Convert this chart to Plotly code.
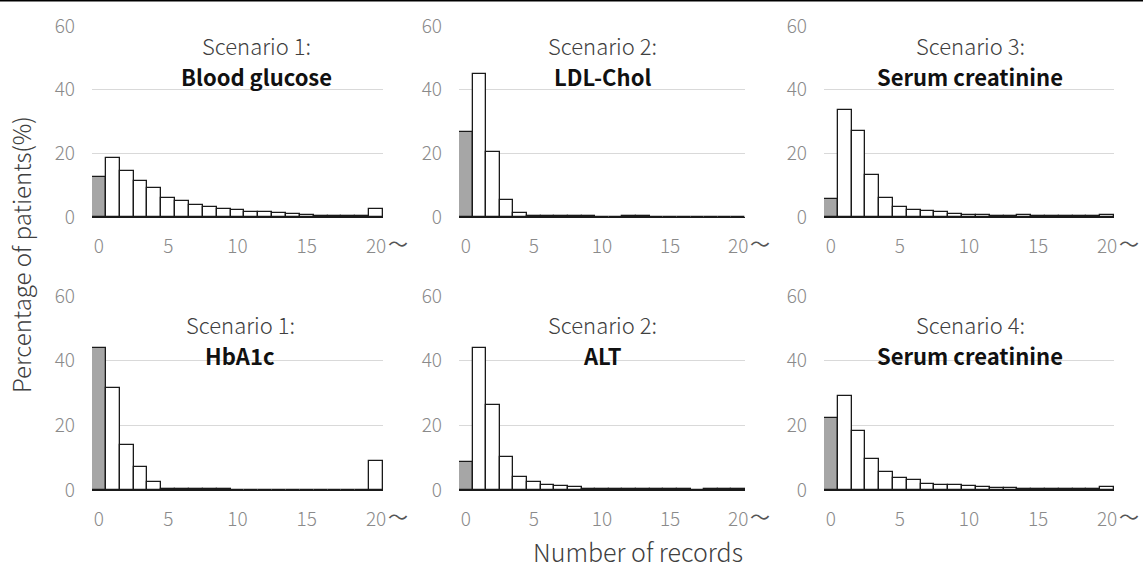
import plotly.graph_objects as go

records = list(range(21))
x_tickvals = [0, 5, 10, 15, 20]
y_tickvals = [0, 20, 40, 60]

blood_glucose = [12.7, 18.4, 14.6, 11.3, 9.1, 5.9, 4.9, 3.9, 3.0, 2.6, 2.2,
                 1.7, 1.55, 1.25, 0.85, 0.7, 0.4, 0.35, 0.3, 0.3, 2.6]
ldl_chol = [26.6, 45.0, 20.3, 5.2, 1.25, 0.4, 0.3, 0.3, 0.3, 0.3, 0.05,
            0.1, 0.3, 0.3, 0.05, 0.05, 0.05, 0.05, 0.05, 0.05, 0.05]
serum_creat_s3 = [5.5, 33.7, 26.9, 13.1, 5.9, 3.2, 2.3, 1.9, 1.45, 1.05, 0.6,
                  0.6, 0.3, 0.3, 0.7, 0.25, 0.25, 0.25, 0.25, 0.25, 0.7]
hba1c = [43.9, 31.7, 13.9, 7.0, 2.4, 0.4, 0.3, 0.3, 0.3, 0.3, 0.0,
         0.0, 0.0, 0.0, 0.0, 0.0, 0.0, 0.0, 0.0, 0.0, 9.1]
alt = [8.6, 43.9, 26.3, 10.1, 4.1, 2.35, 1.6, 1.2, 0.8, 0.3, 0.3,
       0.3, 0.3, 0.3, 0.3, 0.3, 0.3, 0.1, 0.3, 0.3, 0.3]
serum_creat_s4 = [22.2, 29.2, 18.2, 9.6, 5.6, 3.8, 3.1, 1.95, 1.55, 1.5, 1.2,
                  0.8, 0.7, 0.7, 0.3, 0.3, 0.3, 0.3, 0.3, 0.3, 0.8]

scenarios = ["Scenario 1:", "Scenario 2:", "Scenario 3:",
             "Scenario 1:", "Scenario 2:", "Scenario 4:"]
labs = ["Blood glucose", "LDL-Chol", "Serum creatinine",
        "HbA1c", "ALT", "Serum creatinine"]
series = [blood_glucose, ldl_chol, serum_creat_s3, hba1c, alt, serum_creat_s4]

W, H = 1143, 568
col_px = [(92, 383), (459, 745), (824, 1114)]
row_px = [(26, 217), (296, 490)]
title_x = [0.567, 0.5, 0.505, 0.51, 0.5, 0.505]

FONT = "Noto Sans CJK JP"
TICK_COLOR = "#8a8a8a"
fig = go.Figure()
bar_colors = ["#a6a6a6"] + ["#ffffff"] * 20

layout_axes = {}
annotations = []
for i, vals in enumerate(series):
    r, c = divmod(i, 3)
    n = "" if i == 0 else str(i + 1)
    xa, ya = "x" + n, "y" + n
    fig.add_trace(go.Bar(x=records, y=vals, xaxis=xa, yaxis=ya,
                         marker=dict(color=bar_colors,
                                     line=dict(color="#1a1a1a", width=1.3)),
                         showlegend=False, hoverinfo="x+y"))
    x0, x1 = col_px[c]
    y0, y1 = row_px[r]
    layout_axes["xaxis" + n] = dict(
        domain=[x0 / W, x1 / W], anchor=ya, range=[-0.5, 20.5],
        tickvals=x_tickvals, ticks="", showgrid=False, zeroline=False,
        showline=True, linecolor="#1a1a1a", linewidth=1.3, automargin=False,
        tickfont=dict(family=FONT, size=19, color=TICK_COLOR, weight=300),
        ticklabelstandoff=12, fixedrange=True)
    layout_axes["yaxis" + n] = dict(
        domain=[1 - y1 / H, 1 - y0 / H], anchor=xa, range=[0, 60],
        tickvals=y_tickvals, ticks="", showgrid=True, gridcolor="#d9d9d9",
        gridwidth=1, zeroline=False, showline=False, automargin=False,
        tickfont=dict(family=FONT, size=19, color=TICK_COLOR, weight=300),
        ticklabelstandoff=16, fixedrange=True)
    dom_h = y1 - y0
    s_y, b_y = (y0 + 19, y0 + 50) if r == 0 else (y0 + 28, y0 + 59)
    annotations.append(dict(xref=xa + " domain", yref=ya + " domain",
                            x=title_x[i], y=(y1 - s_y) / dom_h,
                            text=scenarios[i],
                            showarrow=False, xanchor="center", yanchor="middle",
                            font=dict(family=FONT, size=22, color="#404040",
                                      weight=300)))
    annotations.append(dict(xref=xa + " domain", yref=ya + " domain",
                            x=title_x[i], y=(y1 - b_y) / dom_h,
                            text="<b>" + labs[i] + "</b>",
                            showarrow=False, xanchor="center", yanchor="middle",
                            font=dict(family=FONT, size=22, color="#111111")))
    annotations.append(dict(xref=xa, yref=ya, x=20.5, y=0, text="〜",
                            showarrow=False, xanchor="left", yanchor="middle",
                            xshift=3, yshift=-26,
                            font=dict(family=FONT, size=20, color="#555555")))

annotations.append(dict(xref="paper", yref="paper", x=638 / W, y=1 - 551 / H,
                        text="Number of records", showarrow=False,
                        xanchor="center", yanchor="middle",
                        font=dict(family=FONT, size=25, color="#404040",
                                  weight=300)))
annotations.append(dict(xref="paper", yref="paper", x=20 / W, y=1 - 255 / H,
                        text="Percentage of patients(%)", showarrow=False,
                        textangle=-90, xanchor="center", yanchor="middle",
                        font=dict(family=FONT, size=24, color="#404040",
                                  weight=300)))

fig.update_layout(
    width=W, height=H,
    margin=dict(l=0, r=0, t=0, b=0, pad=0, autoexpand=False),
    paper_bgcolor="white", plot_bgcolor="white",
    bargap=0, annotations=annotations,
    shapes=[dict(type="line", xref="paper", yref="paper", x0=0, x1=1,
                 y0=1, y1=1, line=dict(color="black", width=3))],
    **layout_axes)

fig.write_html("out.html", config={"displayModeBar": False},
               post_script="document.body.style.margin='0';"
                           "document.body.style.padding='0';")
